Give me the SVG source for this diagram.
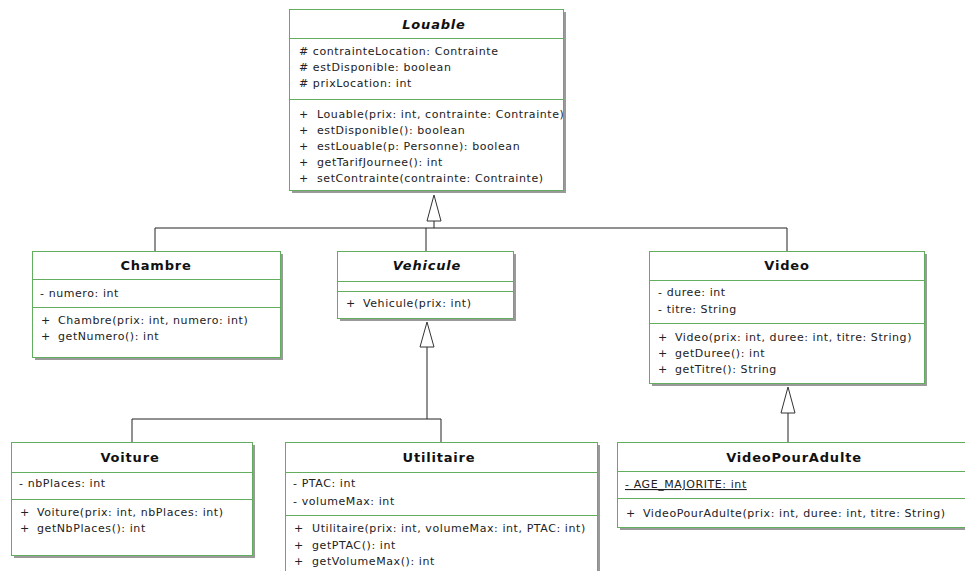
<svg xmlns="http://www.w3.org/2000/svg" width="965" height="571" viewBox="0 0 965 571">
<style>
.box{fill:#fff;stroke:#63ad5f;stroke-width:1}
.sh{fill:#9a9a9a}
.sep{stroke:#63ad5f;stroke-width:1}
.t{font-family:"DejaVu Sans",Verdana,sans-serif;font-size:11px;letter-spacing:0.58px;fill:#222}
.h{font-family:"DejaVu Sans",Verdana,sans-serif;font-size:13px;font-weight:bold;letter-spacing:0.8px;fill:#111;text-anchor:middle}
.hi{font-style:italic}
.u{text-decoration:underline}
.ln{stroke:#222;stroke-width:1;fill:none}
.tri{fill:#fff;stroke:#333;stroke-width:1}
</style>
<defs>
<clipPath id="cVideo"><rect x="649" y="251" width="273" height="132"/></clipPath>
<clipPath id="cLouable"><rect x="289" y="9" width="274" height="181"/></clipPath>
</defs>
<rect width="965" height="571" fill="#fff"/>

<g id="connectors">
<polyline class="ln" points="434,221 434,228"/>
<polyline class="ln" points="155,251 155,228 787,228 787,251"/>
<polyline class="ln" points="426,228 426,251"/>
<polygon class="tri" points="434,195 427,221 441,221"/>
<polyline class="ln" points="427,347 427,419"/>
<polyline class="ln" points="132,442 132,419 441,419 441,442"/>
<polygon class="tri" points="427,322 420,347 434,347"/>
<polyline class="ln" points="788,413 788,442"/>
<polygon class="tri" points="788,387 781,413 795,413"/>
</g>

<g id="Louable">
<rect class="sh" x="292" y="12" width="274" height="181"/>
<rect class="box" x="289.5" y="9.5" width="274" height="181"/>
<line class="sep" x1="289.5" y1="38.5" x2="563.5" y2="38.5"/>
<line class="sep" x1="289.5" y1="99.5" x2="563.5" y2="99.5"/>
<text class="h hi" x="434" y="29">Louable</text>
<text class="t" x="299" y="55"># contrainteLocation: Contrainte</text>
<text class="t" x="299" y="71"># estDisponible: boolean</text>
<text class="t" x="299" y="87"># prixLocation: int</text>
<g clip-path="url(#cLouable)">
<text class="t" x="299" y="118">+</text><text class="t" x="317" y="118">Louable(prix: int, contrainte: Contrainte)</text>
</g>
<text class="t" x="299" y="134">+</text><text class="t" x="317" y="134">estDisponible(): boolean</text>
<text class="t" x="299" y="150">+</text><text class="t" x="317" y="150">estLouable(p: Personne): boolean</text>
<text class="t" x="299" y="166">+</text><text class="t" x="317" y="166">getTarifJournee(): int</text>
<text class="t" x="299" y="182">+</text><text class="t" x="317" y="182">setContrainte(contrainte: Contrainte)</text>
</g>

<g id="Chambre">
<rect class="sh" x="35" y="254" width="248" height="106"/>
<rect class="box" x="32.5" y="251.5" width="248" height="106"/>
<line class="sep" x1="32.5" y1="279.5" x2="280.5" y2="279.5"/>
<line class="sep" x1="32.5" y1="307.5" x2="280.5" y2="307.5"/>
<text class="h" x="156" y="270">Chambre</text>
<text class="t" x="40" y="297">- numero: int</text>
<text class="t" x="41" y="324">+</text><text class="t" x="58" y="324">Chambre(prix: int, numero: int)</text>
<text class="t" x="41" y="340">+</text><text class="t" x="58" y="340">getNumero(): int</text>
</g>

<g id="Vehicule">
<rect class="sh" x="340" y="254" width="176" height="67"/>
<rect class="box" x="337.5" y="251.5" width="176" height="67"/>
<line class="sep" x1="337.5" y1="281.5" x2="513.5" y2="281.5"/>
<line class="sep" x1="337.5" y1="291.5" x2="513.5" y2="291.5"/>
<text class="h hi" x="427" y="270">Vehicule</text>
<text class="t" x="346" y="307">+</text><text class="t" x="363" y="307">Vehicule(prix: int)</text>
</g>

<g id="Video">
<rect class="sh" x="652" y="254" width="275" height="132"/>
<rect class="box" x="649.5" y="251.5" width="275" height="132"/>
<line class="sep" x1="649.5" y1="280.5" x2="924.5" y2="280.5"/>
<line class="sep" x1="649.5" y1="323.5" x2="924.5" y2="323.5"/>
<text class="h" x="787" y="270">Video</text>
<text class="t" x="658" y="296">- duree: int</text>
<text class="t" x="658" y="313">- titre: String</text>
<g clip-path="url(#cVideo)">
<text class="t" x="658" y="341">+</text><text class="t" x="675" y="341">Video(prix: int, duree: int, titre: String)</text>
</g>
<text class="t" x="658" y="357">+</text><text class="t" x="675" y="357">getDuree(): int</text>
<text class="t" x="658" y="373">+</text><text class="t" x="675" y="373">getTitre(): String</text>
</g>

<g id="Voiture">
<rect class="sh" x="14" y="445" width="241" height="113"/>
<rect class="box" x="11.5" y="442.5" width="241" height="113"/>
<line class="sep" x1="11.5" y1="472.5" x2="252.5" y2="472.5"/>
<line class="sep" x1="11.5" y1="499.5" x2="252.5" y2="499.5"/>
<text class="h" x="130" y="462">Voiture</text>
<text class="t" x="19" y="487">- nbPlaces: int</text>
<text class="t" x="20" y="516">+</text><text class="t" x="37" y="516">Voiture(prix: int, nbPlaces: int)</text>
<text class="t" x="20" y="532">+</text><text class="t" x="37" y="532">getNbPlaces(): int</text>
</g>

<g id="Utilitaire">
<rect class="sh" x="288" y="445" width="312" height="140"/>
<rect class="box" x="285.5" y="442.5" width="312" height="140"/>
<line class="sep" x1="285.5" y1="472.5" x2="597.5" y2="472.5"/>
<line class="sep" x1="285.5" y1="515.5" x2="597.5" y2="515.5"/>
<text class="h" x="439" y="462">Utilitaire</text>
<text class="t" x="293" y="487">- PTAC: int</text>
<text class="t" x="293" y="505">- volumeMax: int</text>
<text class="t" x="294" y="532">+</text><text class="t" x="312" y="532">Utilitaire(prix: int, volumeMax: int, PTAC: int)</text>
<text class="t" x="294" y="549">+</text><text class="t" x="312" y="549">getPTAC(): int</text>
<text class="t" x="294" y="565">+</text><text class="t" x="312" y="565">getVolumeMax(): int</text>
</g>

<g id="VideoPourAdulte">
<rect class="sh" x="620" y="445" width="348" height="85"/>
<rect class="box" x="617.5" y="442.5" width="348" height="85"/>
<line class="sep" x1="617.5" y1="471.5" x2="965" y2="471.5"/>
<line class="sep" x1="617.5" y1="498.5" x2="965" y2="498.5"/>
<text class="h" x="794" y="462">VideoPourAdulte</text>
<text class="t u" x="625" y="488">- AGE_MAJORITE: int</text>
<text class="t" x="626" y="517">+</text><text class="t" x="643" y="517">VideoPourAdulte(prix: int, duree: int, titre: String)</text>
</g>
</svg>
